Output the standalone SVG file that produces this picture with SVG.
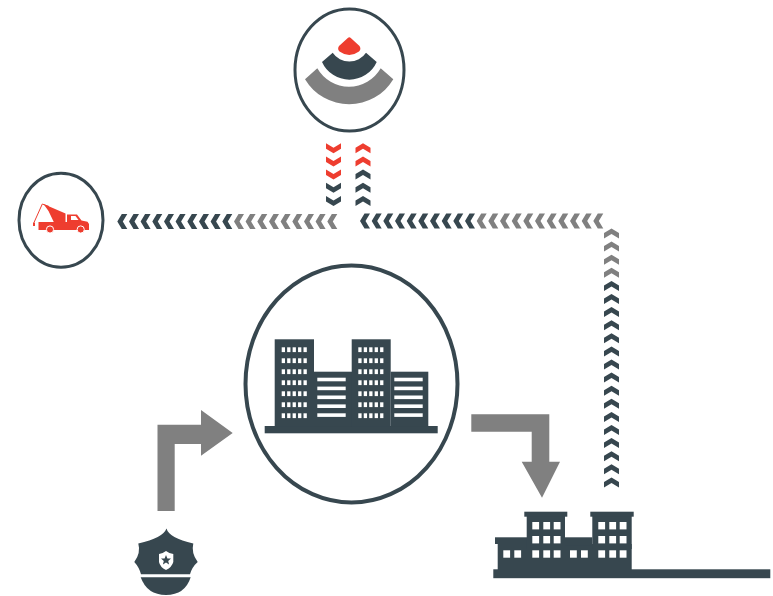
<svg xmlns="http://www.w3.org/2000/svg" xmlns:xlink="http://www.w3.org/1999/xlink" width="773" height="596" viewBox="0 0 773 596">
<style>
.d{fill:#37474f}.g{fill:#808080}.r{fill:#ee3d2f}.w{fill:#fff}
.ring{fill:#fff;stroke:#37474f}
</style>
<defs>
<polygon id="up" points="0,0 7.5,4.5 7.5,10 0,5.5 -7.5,10 -7.5,4.5"/>
<polygon id="dn" points="0,10 7.5,5.5 7.5,0 0,4.5 -7.5,0 -7.5,5.5"/>
<polygon id="lf" points="0,0 4.5,-7.5 10,-7.5 5.5,0 10,7.5 4.5,7.5"/>
<g id="wr" class="w"><rect x="0" y="0" width="3.3" height="4.8"/><rect x="5.45" y="0" width="3.3" height="4.8"/><rect x="10.9" y="0" width="3.3" height="4.8"/><rect x="16.35" y="0" width="3.3" height="4.8"/><rect x="21.8" y="0" width="3.3" height="4.8"/></g>
<g id="wc"><use xlink:href="#wr" y="0"/><use xlink:href="#wr" y="11"/><use xlink:href="#wr" y="22"/><use xlink:href="#wr" y="33"/><use xlink:href="#wr" y="44"/><use xlink:href="#wr" y="55"/><use xlink:href="#wr" y="66"/></g>
<g id="bars" class="w"><rect x="0" y="0" width="28.4" height="3.6"/><rect x="0" y="8.9" width="28.4" height="3.6"/><rect x="0" y="17.8" width="28.4" height="3.6"/><rect x="0" y="26.7" width="28.4" height="3.6"/><rect x="0" y="35.6" width="28.4" height="3.6"/></g>
<rect id="bw" width="6.8" height="7.4" class="w"/>
<g id="bw3"><use xlink:href="#bw" x="0"/><use xlink:href="#bw" x="11"/><use xlink:href="#bw" x="21.4"/></g>
</defs>

<g id="connectors">
<g id="short-down">
<use xlink:href="#dn" x="333.5" y="143.3" class="r"/><use xlink:href="#dn" x="333.5" y="156.6" class="r"/><use xlink:href="#dn" x="333.5" y="169.6" class="r"/><use xlink:href="#dn" x="333.5" y="182.8" class="d"/><use xlink:href="#dn" x="333.5" y="196" class="d"/>
</g>
<g id="short-up">
<use xlink:href="#up" x="363" y="143.3" class="r"/><use xlink:href="#up" x="363" y="156.6" class="r"/><use xlink:href="#up" x="363" y="169.6" class="d"/><use xlink:href="#up" x="363" y="182.8" class="d"/><use xlink:href="#up" x="363" y="196" class="d"/>
</g>
<g id="left-line" transform="translate(0 221.5)">
<use xlink:href="#lf" x="117.3" class="d"/><use xlink:href="#lf" x="129" class="d"/><use xlink:href="#lf" x="140.6" class="d"/><use xlink:href="#lf" x="152.3" class="d"/><use xlink:href="#lf" x="164" class="d"/><use xlink:href="#lf" x="175.6" class="d"/><use xlink:href="#lf" x="187.3" class="d"/><use xlink:href="#lf" x="199" class="d"/><use xlink:href="#lf" x="210.6" class="d"/><use xlink:href="#lf" x="222.3" class="d"/>
<use xlink:href="#lf" x="234" class="g"/><use xlink:href="#lf" x="245.6" class="g"/><use xlink:href="#lf" x="257.3" class="g"/><use xlink:href="#lf" x="269" class="g"/><use xlink:href="#lf" x="280.6" class="g"/><use xlink:href="#lf" x="292.3" class="g"/><use xlink:href="#lf" x="304" class="g"/><use xlink:href="#lf" x="315.6" class="g"/><use xlink:href="#lf" x="327.3" class="g"/>
</g>
<g id="right-line" transform="translate(0 221)">
<use xlink:href="#lf" x="360" class="d"/><use xlink:href="#lf" x="371.7" class="d"/><use xlink:href="#lf" x="383.3" class="d"/><use xlink:href="#lf" x="395" class="d"/><use xlink:href="#lf" x="406.7" class="d"/><use xlink:href="#lf" x="418.3" class="d"/><use xlink:href="#lf" x="430" class="d"/><use xlink:href="#lf" x="441.7" class="d"/><use xlink:href="#lf" x="453.3" class="d"/><use xlink:href="#lf" x="465" class="d"/>
<use xlink:href="#lf" x="476.7" class="g"/><use xlink:href="#lf" x="488.3" class="g"/><use xlink:href="#lf" x="500" class="g"/><use xlink:href="#lf" x="511.7" class="g"/><use xlink:href="#lf" x="523.3" class="g"/><use xlink:href="#lf" x="535" class="g"/><use xlink:href="#lf" x="546.7" class="g"/><use xlink:href="#lf" x="558.3" class="g"/><use xlink:href="#lf" x="570" class="g"/><use xlink:href="#lf" x="581.7" class="g"/><use xlink:href="#lf" x="593.3" class="g"/>
</g>
<g id="vertical-line" transform="translate(611.5 0)">
<use xlink:href="#up" y="228.5" class="g"/><use xlink:href="#up" y="241.6" class="g"/><use xlink:href="#up" y="254.7" class="g"/><use xlink:href="#up" y="267.8" class="g"/>
<use xlink:href="#up" y="280.9" class="d"/><use xlink:href="#up" y="294" class="d"/><use xlink:href="#up" y="307.1" class="d"/><use xlink:href="#up" y="320.2" class="d"/><use xlink:href="#up" y="333.3" class="d"/><use xlink:href="#up" y="346.4" class="d"/><use xlink:href="#up" y="359.5" class="d"/><use xlink:href="#up" y="372.6" class="d"/><use xlink:href="#up" y="385.7" class="d"/><use xlink:href="#up" y="398.8" class="d"/><use xlink:href="#up" y="411.9" class="d"/><use xlink:href="#up" y="425" class="d"/><use xlink:href="#up" y="438.1" class="d"/><use xlink:href="#up" y="451.2" class="d"/><use xlink:href="#up" y="464.3" class="d"/><use xlink:href="#up" y="477.4" class="d"/>
</g>
<polygon id="arrow-police" class="g" points="157.5,511 157.5,424.7 201,424.7 201,410 232.7,433 201,455.7 201,444 174.7,444 174.7,511"/>
<polygon id="arrow-factory" class="g" points="471.3,414.3 549.3,414.3 549.3,461.7 560,461.7 542,497.7 521.7,461.7 531.7,461.7 531.7,431.7 471.3,431.7"/>
</g>

<g id="node-sensor">
<ellipse class="ring" cx="349.5" cy="70" rx="54.5" ry="61" stroke-width="3"/>
<path class="r" d="M347.8,38 Q349.3,36.5 350.8,38 L359.5,46 Q361.5,49 359,51.5 Q349.3,58.5 339.5,51.5 Q337,49 339,46 Z"/>
<path class="d" d="M322,62 L332.7,52.7 A20,20 0 0 0 366,52.7 L376.7,62 A30,30 0 0 1 322,62 Z"/>
<path class="g" d="M305,79.3 L317.3,68.3 A36.5,36.5 0 0 0 380.7,68.3 L393.3,79.3 A51.5,51.5 0 0 1 305,79.3 Z"/>
</g>

<g id="node-tow">
<ellipse class="ring" cx="61" cy="220.3" rx="42" ry="47" stroke-width="3"/>
<path class="r" d="M38.5,222 L67,222 L67,214.5 L77,214.5 L81.5,220.5 L87.5,221.8 L89,224 L89,230 L38.5,230 Z"/>
<path class="r" d="M43.5,204 L65.5,213.5 L65.5,222.5 L54,222.5 L48.5,211 Z"/>
<path d="M42.3,204 L34,222.5 M42.3,204 L49,206.5" fill="none" stroke="#ee3d2f" stroke-width="1"/>
<rect class="r" x="33" y="222.5" width="2" height="3.5"/>
<polygon class="w" points="71,216 75.5,216 78.5,220 71,220"/>
<circle class="r" cx="50" cy="229.5" r="3.6" stroke="#fff" stroke-width="1"/>
<circle class="r" cx="80.7" cy="229.5" r="3.6" stroke="#fff" stroke-width="1"/>
</g>

<g id="node-city">
<ellipse class="ring" cx="351.5" cy="384" rx="106" ry="118.5" stroke-width="4"/>
<rect class="d" x="264.7" y="426" width="173" height="7.3"/>
<rect class="d" x="274.7" y="339.3" width="39.3" height="87"/>
<rect class="d" x="314" y="371.7" width="38" height="55"/>
<rect class="d" x="351.7" y="339.3" width="39" height="87"/>
<rect class="d" x="390.7" y="371.7" width="37.6" height="55"/>
<use xlink:href="#wc" x="281.7" y="347.3"/>
<use xlink:href="#wc" x="358.3" y="347.3"/>
<use xlink:href="#bars" x="317.3" y="377.7"/>
<use xlink:href="#bars" x="394.3" y="377.7"/>
</g>

<g id="node-police">
<path class="d" d="M166.5,528.5 Q169,538 193.3,543.5 Q191,553 197.7,562 Q192,567 190,574.3 L141,574.3 Q139,567 134.3,562 Q141,553 138.3,543.5 Q163,538 166.5,528.5 Z"/>
<path class="d" d="M140.7,577.3 L190.7,577.3 Q185,595 166,595 Q147,595 140.7,577.3 Z"/>
<path class="w" d="M166,551 Q170,554 173.3,554 L173.3,562 Q172,567 166,570 Q160,567 159,562 L159,554 Q162,554 166,551 Z"/>
<polygon class="d" points="166,555 167.4,558.4 171,558.6 168.2,561 169.1,564.5 166,562.6 162.9,564.5 163.8,561 161,558.6 164.6,558.4"/>
</g>

<g id="node-factory">
<rect class="d" x="493.3" y="569.3" width="277" height="8.9"/>
<rect class="d" x="495" y="537.3" width="32" height="6.7"/>
<rect class="d" x="497.7" y="544" width="134" height="26"/>
<rect class="d" x="526.7" y="514" width="38.3" height="35"/>
<rect class="d" x="524.3" y="511.7" width="43" height="5"/>
<rect class="d" x="565" y="537.3" width="27.3" height="8"/>
<rect class="d" x="592.3" y="514" width="39.4" height="35"/>
<rect class="d" x="590.3" y="511.7" width="43.4" height="5"/>
<use xlink:href="#bw3" x="532.3" y="522"/><use xlink:href="#bw3" x="532.3" y="536"/><use xlink:href="#bw3" x="532.3" y="550.3"/>
<use xlink:href="#bw3" x="598.3" y="522"/><use xlink:href="#bw3" x="598.3" y="536"/><use xlink:href="#bw3" x="598.3" y="550.3"/>
<use xlink:href="#bw" x="503.3" y="550.3"/><use xlink:href="#bw" x="514.3" y="550.3"/>
<use xlink:href="#bw" x="570" y="550.3"/><use xlink:href="#bw" x="581" y="550.3"/>
</g>
</svg>
